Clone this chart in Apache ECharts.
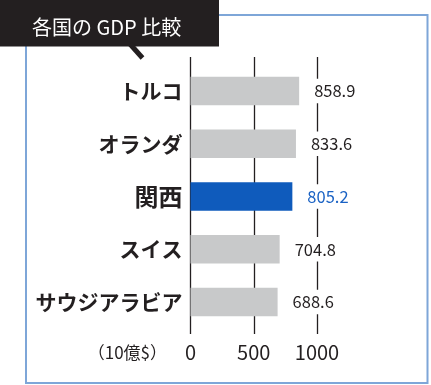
<!DOCTYPE html>
<html><head><meta charset="utf-8">
<script src="https://cdn.jsdelivr.net/npm/echarts@6/dist/echarts.min.js"></script>
<style>html,body{margin:0;padding:0;background:#fff}#c{width:431px;height:385px}</style>
</head><body><div id="c"></div>
<script>
var categories = ['トルコ', 'オランダ', '関西', 'スイス', 'サウジアラビア'];
var values = [858.9, 833.6, 805.2, 704.8, 688.6];
var highlight = '関西';
var tickValues = [0, 500, 1000];
var titleText = '各国の GDP 比較';
var unitText = '（10億$）';

var FONT = '"Noto Sans CJK JP", "Noto Sans", sans-serif';
var BLUE = '#0f5bbc';
var GRAY = '#c8c9ca';
var INK = '#231f20';

var chart = echarts.init(document.getElementById('c'), null, {renderer: 'canvas'});
var barData = values.map(function (v, i) {
  var hi = categories[i] === highlight;
  return {
    value: v,
    itemStyle: {color: hi ? BLUE : GRAY},
    label: {color: hi ? '#1a62c4' : INK}
  };
});
chart.setOption({
  animation: false,
  grid: [
    {left: 190.5, width: 126.5, top: 57, bottom: 51, containLabel: false},
    {left: 190.5, width: 126.5, top: 64.5, bottom: 56.5, containLabel: false}
  ],
  xAxis: [
    {gridIndex: 0, type: 'value', min: 0, max: 1000, interval: 500,
     axisLine: {show: false}, axisTick: {show: false},
     splitLine: {show: true, lineStyle: {color: INK, width: 1.3}},
     axisLabel: {margin: 8, fontFamily: FONT, fontSize: 20, color: INK,
       customValues: tickValues, formatter: function (v) { return String(v); }}},
    {gridIndex: 1, type: 'value', min: 0, max: 1000, show: false}
  ],
  yAxis: [
    {gridIndex: 0, type: 'category', data: categories, show: false},
    {gridIndex: 1, type: 'category', data: categories, inverse: true,
     axisLine: {show: false}, axisTick: {show: false},
     axisLabel: {margin: 8, fontFamily: FONT, fontSize: 21, fontWeight: 'bold', color: INK,
       formatter: function (v) { return v === highlight ? '{k|' + v + '}' : v; },
       rich: {k: {fontFamily: FONT, fontSize: 24, fontWeight: 'bold', color: INK}}}}
  ],
  series: [{
    type: 'bar', xAxisIndex: 1, yAxisIndex: 1,
    data: barData, barWidth: 28.5,
    label: {show: true, position: 'right', distance: 13, fontFamily: FONT, fontSize: 16.5,
      backgroundColor: '#fff', padding: [4, 2, 4, 2],
      formatter: function (p) { return p.value.toFixed(1); }}
  }],
  graphic: [
    {type: 'rect', shape: {x: 26, y: 15, width: 401.5, height: 368}, style: {fill: 'none', stroke: '#7ea6d8', lineWidth: 2}, z: 1},
    {type: 'rect', shape: {x: 0, y: 0, width: 219, height: 46.5}, style: {fill: INK}, z: 10},
    {type: 'line', shape: {x1: 130, y1: 44, x2: 142.5, y2: 58}, style: {stroke: INK, lineWidth: 5}, z: 10},
    {type: 'text', x: 32, y: 27, style: {text: titleText, fill: '#fff', font: '20px ' + FONT, textVerticalAlign: 'middle'}, z: 11},
    {type: 'text', x: 167, y: 353, style: {text: unitText, fill: INK, font: '17px ' + FONT, textAlign: 'right', textVerticalAlign: 'middle'}, z: 11}
  ]
});
</script></body></html>
